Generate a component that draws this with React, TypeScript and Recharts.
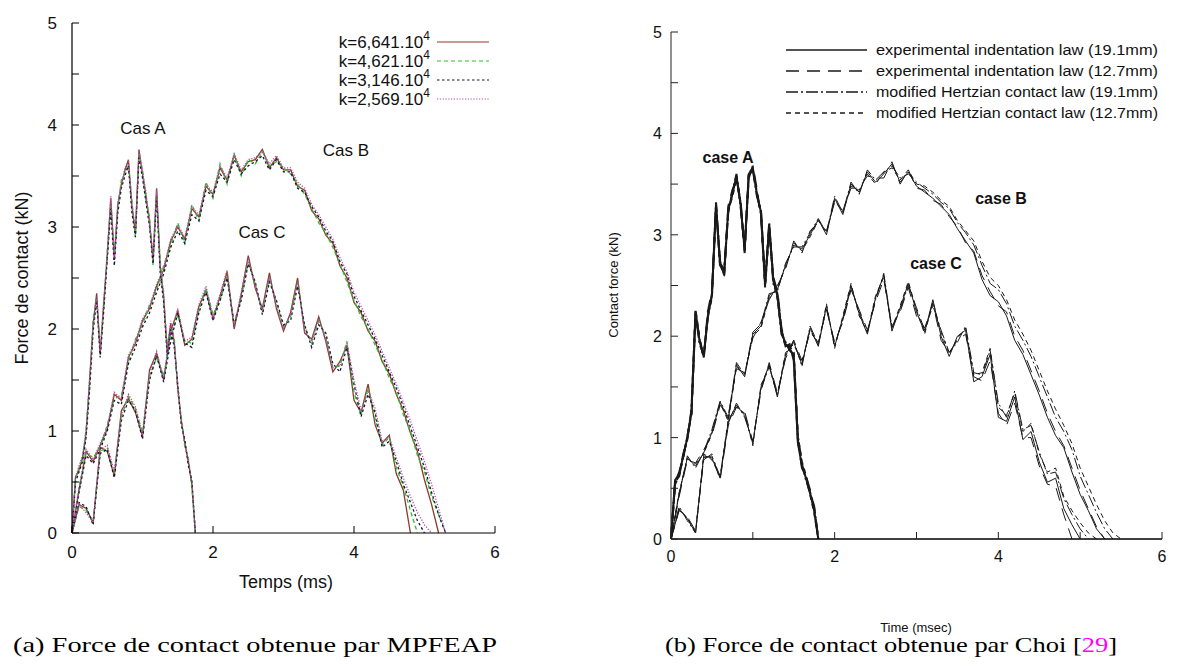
import React from "react";
import { LineChart, Line, XAxis, YAxis } from "recharts";

// time grids (ms)
const tFine = [0, 0.05, 0.1, 0.15, 0.2, 0.25, 0.3, 0.35, 0.4, 0.45, 0.5, 0.55, 0.6, 0.65, 0.7, 0.75, 0.8, 0.85, 0.9, 0.95, 1, 1.05, 1.1, 1.15, 1.2, 1.25, 1.3, 1.35, 1.4, 1.45, 1.5, 1.55, 1.6, 1.65, 1.7, 1.75, 1.8];
const tCoarse = [0, 0.1, 0.2, 0.3, 0.4, 0.5, 0.6, 0.7, 0.8, 0.9, 1, 1.1, 1.2, 1.3, 1.4, 1.5, 1.6, 1.7, 1.8, 1.9, 2, 2.1, 2.2, 2.3, 2.4, 2.5, 2.6, 2.7, 2.8, 2.9, 3, 3.1, 3.2, 3.3, 3.4, 3.5, 3.6, 3.7, 3.8, 3.9, 4, 4.1, 4.2, 4.3, 4.4, 4.5, 4.6, 4.7, 4.8, 4.9, 5, 5.1, 5.2, 5.3, 5.4, 5.5];

// (a) MPFEAP, contact force (kN) per stiffness
const kLabels = ["6,641", "4,621", "3,146", "2,569"];
const leftA1 = [0, 0.55, 0.62, 0.74, 0.98, 1.5, 2.05, 2.35, 1.75, 2.25, 2.72, 3.28, 2.68, 3.22, 3.42, 3.55, 3.66, 3.2, 2.95, 3.76, 3.52, 3.3, 3.05, 2.68, 3.38, 2.62, 2.32, 1.78, 2.05, 1.88, 1.42, 1.1, 0.88, 0.7, 0.48, 0];
const leftA2 = [0, 0.52, 0.64, 0.72, 1.02, 1.45, 2.1, 2.3, 1.8, 2.2, 2.78, 3.22, 2.74, 3.18, 3.46, 3.52, 3.62, 3.26, 2.9, 3.72, 3.56, 3.26, 3.1, 2.62, 3.34, 2.68, 2.28, 1.84, 2.0, 1.92, 1.38, 1.14, 0.84, 0.74, 0.44, 0];
const leftA3 = [0, 0.5, 0.6, 0.7, 0.94, 1.4, 1.98, 2.28, 1.72, 2.18, 2.68, 3.18, 2.62, 3.14, 3.38, 3.5, 3.6, 3.14, 2.9, 3.68, 3.48, 3.24, 3.0, 2.64, 3.3, 2.56, 2.26, 1.74, 2.0, 1.82, 1.46, 1.06, 0.92, 0.66, 0.52, 0];
const leftA4 = [0, 0.54, 0.66, 0.76, 1.0, 1.52, 2.02, 2.32, 1.78, 2.28, 2.7, 3.3, 2.7, 3.24, 3.4, 3.58, 3.64, 3.22, 2.98, 3.74, 3.54, 3.34, 3.02, 2.72, 3.36, 2.6, 2.36, 1.8, 2.08, 1.86, 1.44, 1.12, 0.86, 0.72, 0.5, 0];

const leftB1 = [0, 0.42, 0.8, 0.7, 0.86, 1.02, 1.36, 1.3, 1.72, 1.86, 2.08, 2.2, 2.42, 2.58, 2.86, 3.0, 2.88, 3.18, 3.1, 3.4, 3.32, 3.58, 3.46, 3.7, 3.54, 3.64, 3.66, 3.76, 3.58, 3.68, 3.56, 3.56, 3.4, 3.36, 3.16, 3.08, 2.92, 2.84, 2.62, 2.5, 2.26, 2.16, 1.98, 1.88, 1.68, 1.56, 1.36, 1.2, 0.98, 0.8, 0.52, 0.28, 0];
const leftB2 = [0, 0.45, 0.78, 0.74, 0.84, 1.06, 1.32, 1.34, 1.68, 1.9, 2.04, 2.24, 2.38, 2.62, 2.82, 3.04, 2.84, 3.22, 3.06, 3.44, 3.28, 3.62, 3.42, 3.72, 3.5, 3.66, 3.62, 3.74, 3.6, 3.64, 3.58, 3.52, 3.42, 3.32, 3.18, 3.04, 2.94, 2.8, 2.64, 2.46, 2.28, 2.12, 2.0, 1.84, 1.7, 1.52, 1.38, 1.16, 1.0, 0.76, 0.6, 0.36, 0.18, 0];
const leftB3 = [0, 0.4, 0.76, 0.68, 0.82, 1.0, 1.3, 1.26, 1.66, 1.82, 2.02, 2.16, 2.36, 2.54, 2.8, 2.96, 2.84, 3.12, 3.06, 3.36, 3.3, 3.52, 3.44, 3.66, 3.52, 3.6, 3.64, 3.7, 3.56, 3.66, 3.54, 3.54, 3.38, 3.34, 3.2, 3.1, 2.96, 2.86, 2.66, 2.54, 2.32, 2.18, 2.04, 1.9, 1.74, 1.58, 1.42, 1.24, 1.04, 0.84, 0.64, 0.4, 0.18, 0];
const leftB4 = [0, 0.44, 0.82, 0.72, 0.88, 1.04, 1.38, 1.32, 1.74, 1.88, 2.1, 2.22, 2.44, 2.6, 2.88, 3.02, 2.9, 3.2, 3.12, 3.42, 3.34, 3.6, 3.48, 3.72, 3.56, 3.66, 3.68, 3.74, 3.62, 3.7, 3.58, 3.58, 3.44, 3.38, 3.22, 3.12, 3.0, 2.88, 2.7, 2.56, 2.36, 2.22, 2.08, 1.94, 1.78, 1.62, 1.46, 1.28, 1.1, 0.9, 0.7, 0.48, 0.24, 0];

const leftC1 = [0, 0.28, 0.24, 0.1, 0.84, 0.8, 0.56, 1.2, 1.32, 1.18, 0.95, 1.6, 1.76, 1.5, 1.98, 2.18, 1.84, 1.9, 2.22, 2.38, 2.1, 2.32, 2.56, 2.0, 2.34, 2.72, 2.4, 2.2, 2.55, 2.2, 1.98, 2.16, 2.5, 1.96, 1.9, 2.12, 1.88, 1.58, 1.68, 1.84, 1.3, 1.18, 1.46, 1.06, 0.88, 0.96, 0.58, 0.42, 0];
const leftC2 = [0, 0.26, 0.22, 0.12, 0.8, 0.84, 0.58, 1.14, 1.34, 1.22, 0.98, 1.54, 1.72, 1.54, 1.92, 2.14, 1.88, 1.86, 2.18, 2.4, 2.14, 2.28, 2.52, 2.06, 2.3, 2.66, 2.44, 2.16, 2.5, 2.26, 2.02, 2.12, 2.46, 2.02, 1.86, 2.08, 1.92, 1.62, 1.64, 1.88, 1.38, 1.16, 1.42, 1.12, 0.86, 0.94, 0.64, 0.46, 0.22, 0];
const leftC3 = [0, 0.3, 0.26, 0.08, 0.78, 0.82, 0.54, 1.1, 1.3, 1.2, 0.92, 1.5, 1.74, 1.48, 1.88, 2.16, 1.86, 1.82, 2.16, 2.36, 2.08, 2.28, 2.5, 2.04, 2.28, 2.64, 2.46, 2.14, 2.46, 2.28, 2.04, 2.08, 2.42, 2.04, 1.82, 2.04, 1.96, 1.66, 1.58, 1.82, 1.46, 1.14, 1.36, 1.18, 0.84, 0.9, 0.7, 0.48, 0.3, 0.12, 0];
const leftC4 = [0, 0.28, 0.2, 0.1, 0.82, 0.86, 0.6, 1.16, 1.36, 1.24, 0.96, 1.56, 1.78, 1.52, 1.96, 2.2, 1.88, 1.92, 2.24, 2.42, 2.12, 2.34, 2.58, 2.02, 2.36, 2.7, 2.42, 2.18, 2.52, 2.22, 2.0, 2.14, 2.48, 1.98, 1.88, 2.1, 1.9, 1.62, 1.64, 1.86, 1.5, 1.2, 1.4, 1.22, 0.9, 0.94, 0.74, 0.54, 0.36, 0.2, 0.08, 0];

// (b) Choi, contact force (kN) per law
const lawLabels = [
  "experimental indentation law (19.1mm)",
  "experimental indentation law (12.7mm)",
  "modified Hertzian contact law (19.1mm)",
  "modified Hertzian contact law (12.7mm)",
];
const rightA1 = [0, 0.58, 0.64, 0.82, 1.0, 1.25, 2.25, 1.95, 1.8, 2.2, 2.4, 3.3, 2.7, 2.62, 3.25, 3.4, 3.58, 3.3, 2.85, 3.6, 3.66, 3.4, 3.22, 2.5, 3.1, 2.55, 2.4, 2.05, 1.92, 1.88, 1.8, 0.95, 0.72, 0.6, 0.45, 0.28, 0];
const rightA2 = [0, 0.55, 0.66, 0.8, 1.02, 1.22, 2.2, 1.98, 1.78, 2.24, 2.44, 3.26, 2.74, 2.6, 3.28, 3.44, 3.55, 3.34, 2.82, 3.56, 3.68, 3.44, 3.18, 2.54, 3.06, 2.58, 2.44, 2.08, 1.9, 1.92, 1.76, 0.98, 0.7, 0.62, 0.48, 0.3, 0];
const rightA3 = [0, 0.56, 0.62, 0.84, 0.98, 1.28, 2.22, 1.92, 1.82, 2.18, 2.42, 3.32, 2.72, 2.66, 3.22, 3.42, 3.6, 3.28, 2.88, 3.58, 3.64, 3.38, 3.24, 2.52, 3.12, 2.52, 2.42, 2.02, 1.94, 1.86, 1.82, 1.02, 0.74, 0.58, 0.46, 0.32, 0];
const rightA4 = [0, 0.54, 0.63, 0.81, 1.01, 1.24, 2.26, 1.96, 1.79, 2.21, 2.38, 3.28, 2.68, 2.64, 3.24, 3.38, 3.56, 3.32, 2.84, 3.62, 3.64, 3.42, 3.2, 2.48, 3.08, 2.56, 2.38, 2.06, 1.9, 1.9, 1.84, 1.0, 0.76, 0.62, 0.44, 0.26, 0];

const rightB1 = [0, 0.45, 0.8, 0.72, 0.85, 1.05, 1.35, 1.18, 1.72, 1.6, 2.02, 2.1, 2.4, 2.46, 2.7, 2.9, 2.86, 3.0, 3.15, 3.0, 3.36, 3.2, 3.5, 3.42, 3.62, 3.52, 3.6, 3.7, 3.52, 3.62, 3.48, 3.42, 3.36, 3.28, 3.2, 3.06, 2.94, 2.82, 2.56, 2.4, 2.34, 2.2, 1.96, 1.82, 1.62, 1.42, 1.2, 1.02, 0.9, 0.66, 0.44, 0.28, 0.1, 0];
const rightB2 = [0, 0.42, 0.78, 0.75, 0.88, 1.02, 1.32, 1.22, 1.68, 1.64, 1.98, 2.14, 2.36, 2.5, 2.66, 2.94, 2.82, 3.04, 3.12, 3.04, 3.32, 3.24, 3.46, 3.46, 3.58, 3.56, 3.56, 3.72, 3.5, 3.64, 3.46, 3.44, 3.34, 3.3, 3.18, 3.08, 2.92, 2.84, 2.6, 2.44, 2.3, 2.24, 2.0, 1.86, 1.66, 1.46, 1.24, 1.06, 0.92, 0.7, 0.48, 0.3, 0.12, 0];
const rightB3 = [0, 0.44, 0.82, 0.7, 0.86, 1.08, 1.36, 1.2, 1.74, 1.62, 2.04, 2.12, 2.42, 2.44, 2.72, 2.88, 2.88, 3.02, 3.16, 3.02, 3.38, 3.22, 3.52, 3.4, 3.64, 3.54, 3.62, 3.68, 3.56, 3.6, 3.52, 3.46, 3.4, 3.32, 3.26, 3.12, 3.02, 2.9, 2.7, 2.52, 2.46, 2.32, 2.1, 1.96, 1.8, 1.6, 1.4, 1.2, 1.06, 0.88, 0.62, 0.44, 0.26, 0.1, 0];
const rightB4 = [0, 0.46, 0.79, 0.74, 0.84, 1.04, 1.34, 1.16, 1.7, 1.62, 2.0, 2.08, 2.38, 2.48, 2.68, 2.92, 2.84, 2.98, 3.14, 3.02, 3.34, 3.22, 3.48, 3.44, 3.6, 3.5, 3.62, 3.66, 3.54, 3.64, 3.5, 3.48, 3.42, 3.34, 3.28, 3.14, 3.04, 2.94, 2.74, 2.58, 2.5, 2.36, 2.16, 2.02, 1.86, 1.66, 1.46, 1.28, 1.12, 0.94, 0.7, 0.52, 0.34, 0.18, 0.06, 0];

const rightC1 = [0, 0.3, 0.2, 0.06, 0.82, 0.8, 0.6, 1.16, 1.32, 1.22, 0.94, 1.5, 1.72, 1.4, 1.82, 1.94, 1.72, 2.08, 1.9, 2.3, 1.9, 2.18, 2.5, 2.22, 2.02, 2.38, 2.6, 2.05, 2.28, 2.52, 2.24, 2.04, 2.36, 2.0, 1.8, 2.0, 2.06, 1.55, 1.6, 1.82, 1.2, 1.16, 1.4, 0.98, 1.06, 0.76, 0.56, 0.6, 0.3, 0.14, 0];
const rightC2 = [0, 0.28, 0.22, 0.08, 0.78, 0.84, 0.58, 1.12, 1.3, 1.26, 0.96, 1.46, 1.74, 1.44, 1.78, 1.96, 1.76, 2.04, 1.94, 2.26, 1.94, 2.14, 2.46, 2.26, 2.06, 2.34, 2.56, 2.1, 2.24, 2.48, 2.2, 2.08, 2.32, 1.96, 1.84, 1.96, 2.02, 1.6, 1.56, 1.76, 1.24, 1.12, 1.34, 1.0, 1.0, 0.72, 0.54, 0.52, 0.24, 0];
const rightC3 = [0, 0.32, 0.18, 0.06, 0.8, 0.82, 0.62, 1.14, 1.34, 1.2, 0.96, 1.48, 1.7, 1.42, 1.8, 1.96, 1.7, 2.1, 1.92, 2.28, 1.92, 2.16, 2.48, 2.24, 2.04, 2.36, 2.62, 2.08, 2.26, 2.5, 2.28, 2.06, 2.3, 2.06, 1.84, 1.94, 2.1, 1.64, 1.62, 1.86, 1.34, 1.2, 1.46, 1.08, 1.12, 0.86, 0.64, 0.66, 0.4, 0.24, 0.1, 0];
const rightC4 = [0, 0.29, 0.21, 0.07, 0.84, 0.78, 0.62, 1.18, 1.3, 1.24, 0.92, 1.52, 1.7, 1.42, 1.84, 1.92, 1.74, 2.06, 1.92, 2.32, 1.88, 2.2, 2.52, 2.2, 2.04, 2.4, 2.58, 2.08, 2.3, 2.54, 2.26, 2.02, 2.34, 2.04, 1.82, 1.98, 2.08, 1.62, 1.64, 1.88, 1.3, 1.22, 1.44, 1.06, 1.14, 0.84, 0.66, 0.7, 0.42, 0.28, 0.16, 0.06, 0];

// ticks
const forceTicks = [0, 0.5, 1, 1.5, 2, 2.5, 3, 3.5, 4, 4.5, 5];
const leftTimeTicks = [0, 2, 4, 6];
const rightTimeTicks = [0, 1, 2, 3, 4, 5, 6];

const SANS = "'Liberation Sans', Arial, Helvetica, sans-serif";
const SERIF = "'Liberation Serif', 'Times New Roman', serif";

// plot frames (px inside each chart svg)
const LF = { left: 72, right: 495, top: 23, bottom: 533 };
const RF = { left: 71, right: 562, top: 32, bottom: 539 };

const leftStyles = [
  { color: "#8b3a2a", dash: undefined as string | undefined },
  { color: "#2cc02c", dash: "4 3" },
  { color: "#15153a", dash: "2.5 2.5" },
  { color: "#b648ae", dash: "1.2 1.6" },
];
const rightDash = [undefined, "13 8", "12 3 2 3", "5 4"];

const pts = (ts: number[], fs: number[]) => fs.map((f, i) => ({ t: ts[i], f }));

const leftRuns = [
  [leftA1, leftB1, leftC1],
  [leftA2, leftB2, leftC2],
  [leftA3, leftB3, leftC3],
  [leftA4, leftB4, leftC4],
];
const rightRuns = [
  [rightA1, rightB1, rightC1],
  [rightA2, rightB2, rightC2],
  [rightA3, rightB3, rightC3],
  [rightA4, rightB4, rightC4],
];

const tickLen = 7;

function LeftChart() {
  const yTickL = (p: any) => (
    <g>
      <line x1={LF.left} x2={LF.left + tickLen} y1={p.y} y2={p.y} stroke="#000" />
      {Number.isInteger(p.payload.value) && (
        <text x={LF.left - 15} y={p.y + 6} textAnchor="end" fontSize={17} fontFamily={SANS} fill="#111">
          {p.payload.value}
        </text>
      )}
    </g>
  );
  const yTickR = (p: any) => (
    <line x1={LF.right - tickLen} x2={LF.right} y1={p.y} y2={p.y} stroke="#000" />
  );
  const xTickB = (p: any) => (
    <g>
      <line x1={p.x} x2={p.x} y1={LF.bottom - tickLen} y2={LF.bottom} stroke="#000" />
      <text x={p.x} y={LF.bottom + 25} textAnchor="middle" fontSize={17} fontFamily={SANS} fill="#111">
        {p.payload.value}
      </text>
    </g>
  );
  const xTickT = (p: any) => (
    <line x1={p.x} x2={p.x} y1={LF.top} y2={LF.top + tickLen} stroke="#000" />
  );
  return (
    <LineChart width={520} height={600} margin={{ top: LF.top, right: 520 - LF.right, bottom: 0, left: 0 }}>
      <XAxis xAxisId="b" type="number" dataKey="t" domain={[0, 6]} ticks={leftTimeTicks} interval={0}
        height={600 - LF.bottom} tickSize={0} tickLine={false} tick={xTickB} axisLine={{ stroke: "#000", strokeWidth: 1.2 }} />
      <XAxis xAxisId="t" orientation="top" type="number" dataKey="t" domain={[0, 6]} ticks={leftTimeTicks} interval={0}
        height={0} tickSize={0} tickLine={false} tick={xTickT} axisLine={{ stroke: "#000", strokeWidth: 1.2 }} />
      <YAxis yAxisId="l" type="number" domain={[0, 5]} ticks={forceTicks} interval={0}
        width={LF.left} tickSize={0} tickLine={false} tick={yTickL} axisLine={{ stroke: "#000", strokeWidth: 1.2 }} />
      <YAxis yAxisId="r" orientation="right" type="number" domain={[0, 5]} ticks={forceTicks} interval={0}
        width={0} tickSize={0} tickLine={false} tick={yTickR} axisLine={{ stroke: "#000", strokeWidth: 1.2 }} />
      {leftRuns.map((run, si) =>
        run.map((vals, ci) => (
          <Line key={`l${si}${ci}`} xAxisId="b" yAxisId="l" type="linear" data={pts(ci === 0 ? tFine : tCoarse, vals)}
            dataKey="f" stroke={leftStyles[si].color} strokeWidth={1.3} strokeDasharray={leftStyles[si].dash}
            dot={false} activeDot={false} isAnimationActive={false} />
        ))
      )}
    </LineChart>
  );
}

function RightChart() {
  const yTickL = (p: any) => (
    <g>
      <line x1={RF.left} x2={RF.left + tickLen} y1={p.y} y2={p.y} stroke="#222" />
      {Number.isInteger(p.payload.value) && (
        <text x={RF.left - 9} y={p.y + 6} textAnchor="end" fontSize={16} fontFamily={SANS} fill="#111">
          {p.payload.value}
        </text>
      )}
    </g>
  );
  const xTickB = (p: any) => (
    <g>
      <line x1={p.x} x2={p.x} y1={RF.bottom - tickLen} y2={RF.bottom} stroke="#222" />
      {p.payload.value % 2 === 0 && (
        <text x={p.x} y={RF.bottom + 23} textAnchor="middle" fontSize={16} fontFamily={SANS} fill="#111">
          {p.payload.value}
        </text>
      )}
    </g>
  );
  return (
    <LineChart width={583} height={600} margin={{ top: RF.top, right: 583 - RF.right, bottom: 0, left: 0 }}>
      <XAxis xAxisId="b" type="number" dataKey="t" domain={[0, 6]} ticks={rightTimeTicks} interval={0}
        height={600 - RF.bottom} tickSize={0} tickLine={false} tick={xTickB} axisLine={{ stroke: "#000", strokeWidth: 1.6 }} />
      <XAxis xAxisId="t" orientation="top" type="number" dataKey="t" domain={[0, 6]} ticks={[]}
        height={0} tick={false} tickLine={false} axisLine={{ stroke: "#222", strokeWidth: 1 }} />
      <YAxis yAxisId="l" type="number" domain={[0, 5]} ticks={forceTicks} interval={0}
        width={RF.left} tickSize={0} tickLine={false} tick={yTickL} axisLine={{ stroke: "#222", strokeWidth: 1 }} />
      <YAxis yAxisId="r" orientation="right" type="number" domain={[0, 5]} ticks={[]}
        width={0} tick={false} tickLine={false} axisLine={{ stroke: "#222", strokeWidth: 1 }} />
      {rightRuns.map((run, si) =>
        run.map((vals, ci) => (
          <Line key={`r${si}${ci}`} xAxisId="b" yAxisId="l" type="linear" data={pts(ci === 0 ? tFine : tCoarse, vals)}
            dataKey="f" stroke="#1a1a1a" strokeWidth={ci === 0 ? 2 : 1} strokeDasharray={rightDash[si]}
            dot={false} activeDot={false} isAnimationActive={false} />
        ))
      )}
    </LineChart>
  );
}

function Overlay() {
  const leftRows = [42, 61, 80, 99];
  const rightRows = [50, 71, 92, 113];
  return (
    <svg width={1183} height={666} style={{ position: "absolute", left: 0, top: 0, pointerEvents: "none" }}>
      {/* left legend */}
      {kLabels.map((k, i) => (
        <g key={k}>
          <text x={430} y={leftRows[i] + 6} textAnchor="end" fontSize={17} fontFamily={SANS} fill="#111">
            k={k}.10<tspan dy={-8} fontSize={12}>4</tspan>
          </text>
          <line x1={437} x2={489} y1={leftRows[i]} y2={leftRows[i]} stroke={leftStyles[i].color}
            strokeWidth={1.2} strokeDasharray={leftStyles[i].dash} />
        </g>
      ))}
      {/* right legend */}
      {lawLabels.map((s, i) => (
        <g key={s}>
          <line x1={786} x2={867} y1={rightRows[i]} y2={rightRows[i]} stroke="#1a1a1a" strokeWidth={1.4}
            strokeDasharray={rightDash[i]} />
          <text x={876} y={rightRows[i] + 5} fontSize={14} fontFamily={SANS} fill="#111"
            textLength={282} lengthAdjust="spacingAndGlyphs">
            {s}
          </text>
        </g>
      ))}
      {/* case labels */}
      <g fontFamily={SANS} fontSize={17} fill="#111" textAnchor="middle">
        <text x={143} y={134}>Cas A</text>
        <text x={346} y={156}>Cas B</text>
        <text x={262} y={238}>Cas C</text>
      </g>
      <g fontFamily={SANS} fontSize={16} fontWeight="bold" fill="#111" textAnchor="middle">
        <text x={728} y={163}>case A</text>
        <text x={1001} y={204}>case B</text>
        <text x={936} y={269}>case C</text>
      </g>
      {/* axis titles */}
      <text x={22} y={278} transform="rotate(-90 22 278)" textAnchor="middle" dominantBaseline="central"
        fontSize={18} fontFamily={SANS} fill="#111">Force de contact (kN)</text>
      <text x={286} y={588} textAnchor="middle" fontSize={18} fontFamily={SANS} fill="#111">Temps (ms)</text>
      <text x={613} y={285} transform="rotate(-90 613 285)" textAnchor="middle" dominantBaseline="central"
        fontSize={13} fontFamily={SANS} fill="#111">Contact force (kN)</text>
      <text x={916} y={632} textAnchor="middle" fontSize={13} fontFamily={SANS} fill="#111">Time (msec)</text>
      {/* captions */}
      <text x={13} y={652} fontSize={21} fontFamily={SERIF} fill="#000" textLength={484} lengthAdjust="spacingAndGlyphs">
        (a) Force de contact obtenue par MPFEAP
      </text>
      <text x={665} y={652} fontSize={21} fontFamily={SERIF} fill="#000" textLength={452} lengthAdjust="spacingAndGlyphs">
        (b) Force de contact obtenue par Choi [<tspan fill="#ff00ff">29</tspan>]
      </text>
    </svg>
  );
}

export default function App() {
  return (
    <div style={{ position: "absolute", left: 0, top: 0, width: 1183, height: 666, background: "#fff" }}>
      <div style={{ position: "absolute", left: 0, top: 0 }}>
        <LeftChart />
      </div>
      <div style={{ position: "absolute", left: 600, top: 0 }}>
        <RightChart />
      </div>
      <Overlay />
    </div>
  );
}
